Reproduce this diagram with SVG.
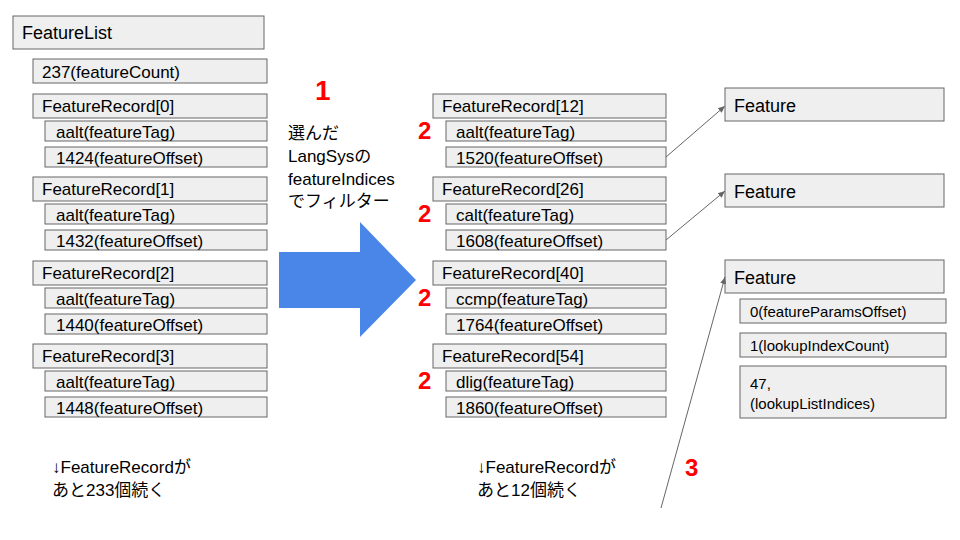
<svg xmlns="http://www.w3.org/2000/svg" width="960" height="540" viewBox="0 0 960 540">
<style>
rect{fill:#efefef;stroke:#666;stroke-width:1}
text{font-family:"Liberation Sans",Arial,"Noto Sans CJK JP",sans-serif;font-size:17px;fill:#000}
.b{font-size:18px}
.s{font-size:15px}
.r{fill:#f00;font-weight:bold;font-size:24px}
.c{stroke:#666;stroke-width:1;fill:none;marker-end:url(#a)}
</style>
<defs><marker id="a" markerWidth="8" markerHeight="8" refX="7" refY="4" orient="auto" markerUnits="userSpaceOnUse"><path d="M0,1 L7,4 L0,7 Z" fill="#666"/></marker></defs>
<rect width="960" height="540" style="fill:#fff;stroke:none"/>
<g id="featurelist"><rect x="13" y="16" width="251" height="33"/><text x="22" y="39" class="b">FeatureList</text></g>
<g id="count"><rect x="33" y="59" width="234" height="24"/><text x="42" y="78">237(featureCount)</text></g>
<g id="lr0"><rect x="33" y="94" width="234" height="24"/><text x="42" y="112">FeatureRecord[0]</text>
<rect x="45" y="121" width="222" height="20"/><text x="56" y="138">aalt(featureTag)</text>
<rect x="45" y="147" width="222" height="20"/><text x="56" y="164">1424(featureOffset)</text></g>
<g id="lr1"><rect x="33" y="177" width="234" height="24"/><text x="42" y="195">FeatureRecord[1]</text>
<rect x="45" y="204" width="222" height="20"/><text x="56" y="221">aalt(featureTag)</text>
<rect x="45" y="230" width="222" height="20"/><text x="56" y="247">1432(featureOffset)</text></g>
<g id="lr2"><rect x="33" y="261" width="234" height="24"/><text x="42" y="279">FeatureRecord[2]</text>
<rect x="45" y="288" width="222" height="20"/><text x="56" y="305">aalt(featureTag)</text>
<rect x="45" y="314" width="222" height="20"/><text x="56" y="331">1440(featureOffset)</text></g>
<g id="lr3"><rect x="33" y="344" width="234" height="24"/><text x="42" y="362">FeatureRecord[3]</text>
<rect x="45" y="371" width="222" height="20"/><text x="56" y="388">aalt(featureTag)</text>
<rect x="45" y="397" width="222" height="20"/><text x="56" y="414">1448(featureOffset)</text></g>
<g id="note1"><text x="52" y="473">↓FeatureRecordが</text><text x="52" y="496">あと233個続く</text></g>
<g id="step1"><text x="315" y="100" class="r" style="font-size:28px">1</text>
<text x="288" y="139">選んだ</text><text x="288" y="162">LangSysの</text><text x="288" y="185">featureIndices</text><text x="288" y="207">でフィルター</text></g>
<g id="bigarrow"><polygon points="279,252 360,252 360,222 416,280 360,337 360,308 279,308" style="fill:#4a86e8;stroke:none"/></g>
<g id="mr12"><rect x="433" y="94" width="233" height="24"/><text x="442" y="112">FeatureRecord[12]</text>
<rect x="446" y="121" width="220" height="20"/><text x="456" y="138">aalt(featureTag)</text>
<rect x="446" y="147" width="220" height="20"/><text x="456" y="164">1520(featureOffset)</text><text x="418" y="139" class="r">2</text></g>
<g id="mr26"><rect x="433" y="177" width="233" height="24"/><text x="442" y="195">FeatureRecord[26]</text>
<rect x="446" y="204" width="220" height="20"/><text x="456" y="221">calt(featureTag)</text>
<rect x="446" y="230" width="220" height="20"/><text x="456" y="247">1608(featureOffset)</text><text x="418" y="222" class="r">2</text></g>
<g id="mr40"><rect x="433" y="261" width="233" height="24"/><text x="442" y="279">FeatureRecord[40]</text>
<rect x="446" y="288" width="220" height="20"/><text x="456" y="305">ccmp(featureTag)</text>
<rect x="446" y="314" width="220" height="20"/><text x="456" y="331">1764(featureOffset)</text><text x="418" y="306" class="r">2</text></g>
<g id="mr54"><rect x="433" y="344" width="233" height="24"/><text x="442" y="362">FeatureRecord[54]</text>
<rect x="446" y="371" width="220" height="20"/><text x="456" y="388">dlig(featureTag)</text>
<rect x="446" y="397" width="220" height="20"/><text x="456" y="414">1860(featureOffset)</text><text x="418" y="389" class="r">2</text></g>
<g id="note2"><text x="477" y="473">↓FeatureRecordが</text><text x="477" y="496">あと12個続く</text></g>
<g id="f1"><rect x="725" y="88" width="219" height="33"/><text x="734" y="112" class="b">Feature</text></g>
<g id="f2"><rect x="725" y="174" width="219" height="33"/><text x="734" y="198" class="b">Feature</text></g>
<g id="f3"><rect x="725" y="260" width="219" height="33"/><text x="734" y="284" class="b">Feature</text>
<rect x="740" y="299" width="206" height="24"/><text x="750" y="317" class="s">0(featureParamsOffset)</text>
<rect x="740" y="333" width="206" height="24"/><text x="750" y="351" class="s">1(lookupIndexCount)</text>
<rect x="740" y="366" width="206" height="52"/><text x="750" y="389" class="s">47,</text><text x="750" y="409" class="s">(lookupListIndices)</text></g>
<text x="685" y="476" class="r">3</text>
<g id="connectors">
<path class="c" d="M666,157 L725,106"/>
<path class="c" d="M666,240 L725,191"/>
<path class="c" d="M661,508 L725,277"/>
</g>
</svg>
